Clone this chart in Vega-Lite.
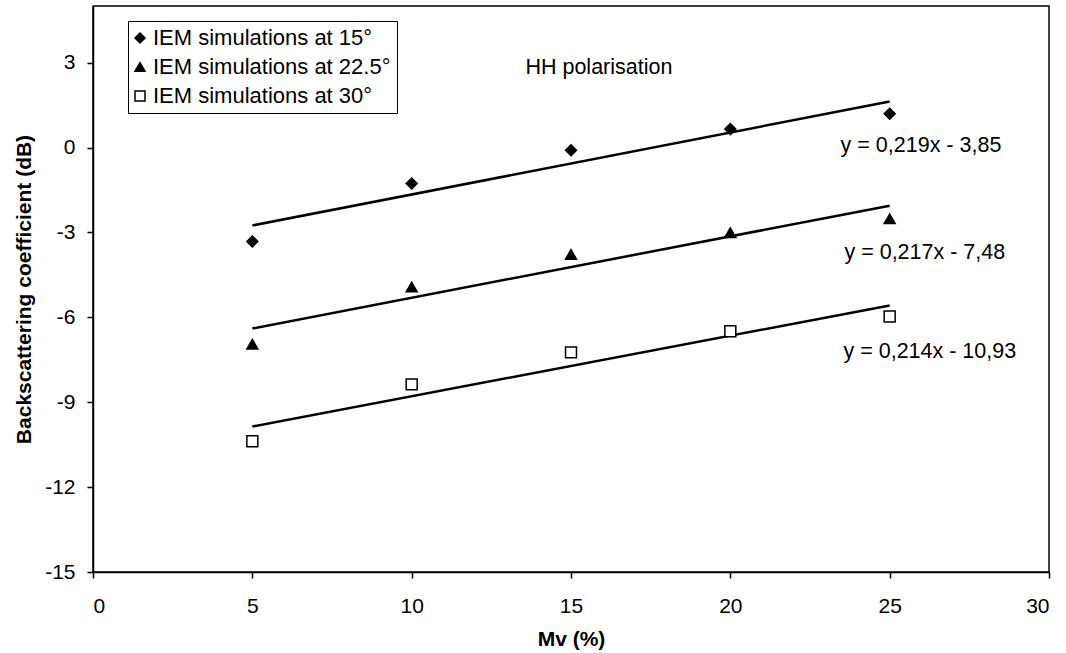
{
  "$schema": "https://vega.github.io/schema/vega-lite/v6.json",
  "width": 956,
  "height": 566,
  "autosize": {"type": "none"},
  "padding": {"left": 93, "top": 6, "right": 17, "bottom": 81},
  "background": "white",
  "config": {
    "font": "Liberation Sans",
    "view": {"stroke": "black", "strokeWidth": 1.5},
    "axis": {
      "domainColor": "black",
      "domainWidth": 1.5,
      "tickColor": "black",
      "tickWidth": 1.5,
      "tickSize": 6,
      "grid": false,
      "labelFont": "Liberation Sans",
      "labelFontSize": 21,
      "labelColor": "black",
      "titleFont": "Liberation Sans",
      "titleFontSize": 21,
      "titleFontWeight": "bold",
      "titleColor": "black"
    }
  },
  "datasets": {
    "points": [
      {"series": "IEM simulations at 15°", "mv": 5, "sigma": -3.32},
      {"series": "IEM simulations at 15°", "mv": 10, "sigma": -1.27},
      {"series": "IEM simulations at 15°", "mv": 15, "sigma": -0.1},
      {"series": "IEM simulations at 15°", "mv": 20, "sigma": 0.65},
      {"series": "IEM simulations at 15°", "mv": 25, "sigma": 1.19},
      {"series": "IEM simulations at 22.5°", "mv": 5, "sigma": -6.95},
      {"series": "IEM simulations at 22.5°", "mv": 10, "sigma": -4.93},
      {"series": "IEM simulations at 22.5°", "mv": 15, "sigma": -3.78},
      {"series": "IEM simulations at 22.5°", "mv": 20, "sigma": -3.01},
      {"series": "IEM simulations at 22.5°", "mv": 25, "sigma": -2.52},
      {"series": "IEM simulations at 30°", "mv": 5, "sigma": -10.38},
      {"series": "IEM simulations at 30°", "mv": 10, "sigma": -8.37},
      {"series": "IEM simulations at 30°", "mv": 15, "sigma": -7.24},
      {"series": "IEM simulations at 30°", "mv": 20, "sigma": -6.49},
      {"series": "IEM simulations at 30°", "mv": 25, "sigma": -5.97}
    ],
    "trend": [
      {"series": "15", "mv": 5, "sigma": -2.755},
      {"series": "15", "mv": 25, "sigma": 1.625},
      {"series": "22.5", "mv": 5, "sigma": -6.395},
      {"series": "22.5", "mv": 25, "sigma": -2.055},
      {"series": "30", "mv": 5, "sigma": -9.86},
      {"series": "30", "mv": 25, "sigma": -5.58}
    ],
    "notes": [
      {"mv": 13.57, "sigma": 2.6, "label": "HH polarisation"},
      {"mv": 23.46, "sigma": -0.15, "label": "y = 0,219x - 3,85"},
      {"mv": 23.58, "sigma": -3.94, "label": "y = 0,217x - 7,48"},
      {"mv": 23.55, "sigma": -7.44, "label": "y = 0,214x - 10,93"}
    ]
  },
  "encoding": {
    "x": {
      "field": "mv",
      "type": "quantitative",
      "scale": {"domain": [0, 30], "nice": false, "zero": false},
      "axis": {"values": [0, 5, 10, 15, 20, 25, 30], "title": "Mv (%)", "labelPadding": 17, "titlePadding": 12}
    },
    "y": {
      "field": "sigma",
      "type": "quantitative",
      "scale": {"domain": [-15, 5], "nice": false, "zero": false},
      "axis": {"values": [-15, -12, -9, -6, -3, 0, 3], "labelExpr": "datum.value < 0 ? '-' + abs(datum.value) : '' + datum.value", "title": "Backscattering coefficient (dB)", "labelPadding": 12, "titlePadding": 10}
    }
  },
  "layer": [
    {
      "data": {"name": "trend"},
      "mark": {"type": "line", "color": "black", "strokeWidth": 2.5},
      "encoding": {"detail": {"field": "series"}}
    },
    {
      "data": {"name": "points"},
      "mark": {"type": "point", "filled": true, "size": 120, "strokeWidth": 1.5, "opacity": 1},
      "encoding": {
        "shape": {
          "field": "series",
          "type": "nominal",
          "scale": {"domain": ["IEM simulations at 15°", "IEM simulations at 22.5°", "IEM simulations at 30°"], "range": ["diamond", "triangle-up", "square"]},
          "legend": {"orient": "none", "legendX": 35, "legendY": 15, "title": null, "padding": 6, "strokeColor": "black", "fillColor": "white", "rowPadding": 7, "symbolOffset": -5, "labelOffset": 2, "labelLimit": 500, "symbolSize": 100, "symbolStrokeWidth": 1.5, "labelFontSize": 22, "labelFont": "Liberation Sans", "labelColor": "black"}
        },
        "fill": {
          "field": "series",
          "type": "nominal",
          "scale": {"domain": ["IEM simulations at 15°", "IEM simulations at 22.5°", "IEM simulations at 30°"], "range": ["black", "black", "white"]},
          "legend": {"orient": "none", "legendX": 35, "legendY": 15, "title": null, "padding": 6, "strokeColor": "black", "fillColor": "white", "rowPadding": 7, "symbolOffset": -5, "labelOffset": 2, "labelLimit": 500, "symbolSize": 100, "symbolStrokeWidth": 1.5, "labelFontSize": 22, "labelFont": "Liberation Sans", "labelColor": "black"}
        },
        "stroke": {
          "field": "series",
          "type": "nominal",
          "scale": {"domain": ["IEM simulations at 15°", "IEM simulations at 22.5°", "IEM simulations at 30°"], "range": ["black", "black", "black"]},
          "legend": {"orient": "none", "legendX": 35, "legendY": 15, "title": null, "padding": 6, "strokeColor": "black", "fillColor": "white", "rowPadding": 7, "symbolOffset": -5, "labelOffset": 2, "labelLimit": 500, "symbolSize": 100, "symbolStrokeWidth": 1.5, "labelFontSize": 22, "labelFont": "Liberation Sans", "labelColor": "black"}
        }
      }
    },
    {
      "data": {"name": "notes"},
      "mark": {"type": "text", "align": "left", "baseline": "alphabetic", "fontSize": 21.5, "font": "Liberation Sans", "color": "black"},
      "encoding": {"text": {"field": "label"}}
    }
  ]
}
